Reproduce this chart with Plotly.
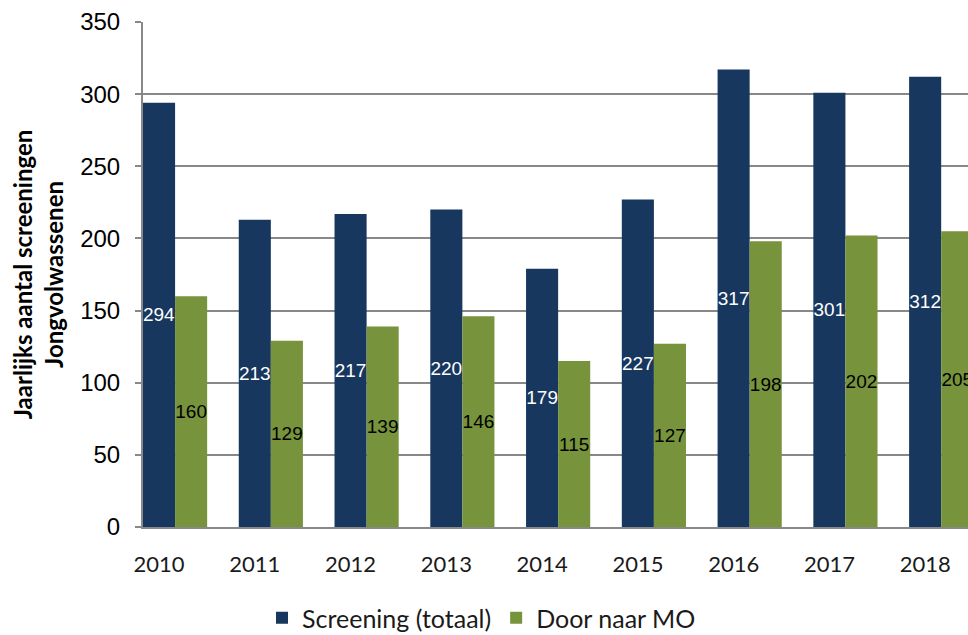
import plotly.graph_objects as go

years = ["2010", "2011", "2012", "2013", "2014", "2015", "2016", "2017", "2018"]
screening = [294, 213, 217, 220, 179, 227, 317, 301, 312]
door_naar_mo = [160, 129, 139, 146, 115, 127, 198, 202, 205]

navy = "#17375E"
green = "#77933C"

fig = go.Figure()
fig.add_trace(go.Bar(
    x=years, y=screening, name="Screening (totaal)",
    marker=dict(color=navy, line=dict(width=0)),
    text=screening, textposition="inside", insidetextanchor="middle", textangle=0,
    textfont=dict(family="Liberation Sans, Arial", size=19, color="white"),
    constraintext="none", cliponaxis=False,
))
fig.add_trace(go.Bar(
    x=years, y=door_naar_mo, name="Door naar MO",
    marker=dict(color=green, line=dict(width=0)),
    text=door_naar_mo, textposition="inside", insidetextanchor="middle", textangle=0,
    textfont=dict(family="Liberation Sans, Arial", size=19, color="black"),
    constraintext="none", cliponaxis=False,
))

fig.update_layout(
    width=968, height=635,
    margin=dict(l=143, r=0, t=22, b=108),
    plot_bgcolor="white", paper_bgcolor="white",
    barmode="group", bargap=0.33, bargroupgap=0,
    showlegend=True,
    legend=dict(orientation="h", x=262 / 968, xref="container", xanchor="left",
                y=17 / 635, yref="container", yanchor="middle",
                font=dict(family="Lato, Noto Sans", size=25, color="#1a1a1a"),
                itemwidth=30, traceorder="normal"),
    xaxis=dict(
        range=[-0.335, 8.28], showgrid=False,
        showline=True, linecolor="#888888", linewidth=2,
        ticks="", ticklabelstandoff=17, ticklabelshift=-16,
        tickfont=dict(family="Lato, Noto Sans", size=22, color="#1a1a1a"),
    ),
    yaxis=dict(
        range=[0, 350], dtick=50,
        showgrid=True, gridcolor="#888888", gridwidth=2,
        showline=True, linecolor="#888888", linewidth=2,
        ticks="outside", ticklen=6, tickcolor="#888888", tickwidth=2,
        ticklabelstandoff=10,
        tickfont=dict(family="Liberation Sans, Arial", size=24, color="black"),
        title=dict(text="<b>Jaarlijks aantal screeningen<br>Jongvolwassenen</b>",
                   font=dict(family="Lato, Noto Sans", size=24, color="black"),
                   standoff=10),
        zeroline=False,
    ),
)

fig.write_html("out.html", config={"displayModeBar": False},
               post_script="document.body.style.margin='0';")
